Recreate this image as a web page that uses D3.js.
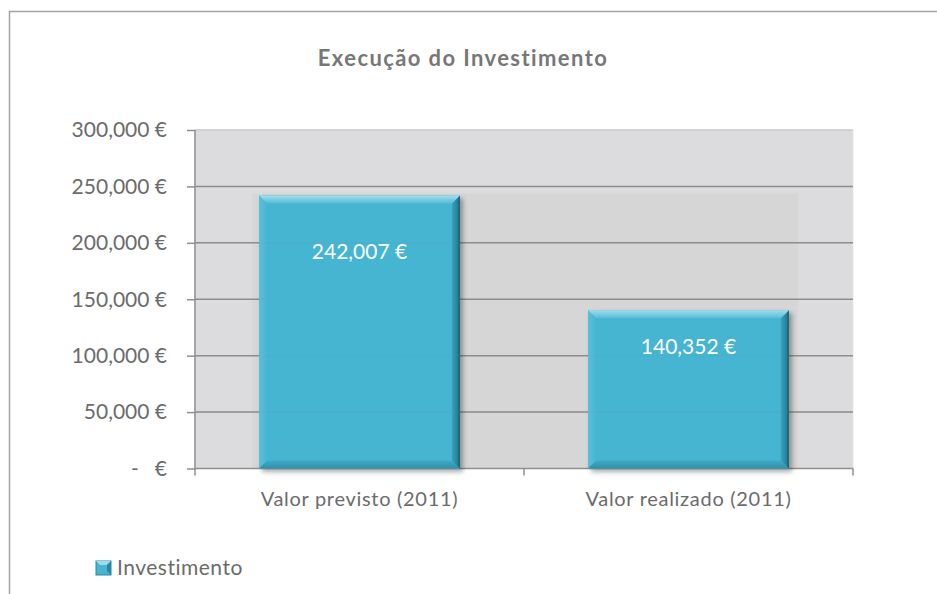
<!DOCTYPE html>
<html>
<head>
<meta charset="utf-8">
<script src="https://cdn.jsdelivr.net/npm/d3@7"></script>
<style>
  html, body { margin: 0; padding: 0; background: #fff; }
  svg { display: block; font-family: Lato, "Open Sans", sans-serif; }
</style>
</head>
<body>
<svg id="chart" width="937" height="594"></svg>
<script>
// Investment execution: planned vs. realised (2011)
const categories = ["Valor previsto (2011)", "Valor realizado (2011)"];
const investimento = [242007, 140352];
const yTicks = [0, 50000, 100000, 150000, 200000, 250000, 300000];
const seriesName = "Investimento";
const title = "Execução do Investimento";

const svg = d3.select("#chart");
const W = 937, H = 594;
const plot = { left: 195, right: 853, top: 130, bottom: 468.5 };

const fmtNum = d3.format(",.0f");
const euro = v => v === 0 ? "-   €" : fmtNum(v) + " €";

const x = d3.scaleBand().domain(categories).range([plot.left, plot.right]).paddingInner(0.39).paddingOuter(0.195);
const y = d3.scaleLinear().domain([0, 300000]).range([plot.bottom, plot.top]);

const defs = svg.append("defs");
const shadow = defs.append("filter").attr("id", "shadow").attr("x", "-10%").attr("y", "-10%").attr("width", "130%").attr("height", "130%");
shadow.append("feDropShadow").attr("dx", 3).attr("dy", 3).attr("stdDeviation", 2.5).attr("flood-color", "#000").attr("flood-opacity", 0.35);

function grad(id, x1, y1, x2, y2, stops) {
  const g = defs.append("linearGradient").attr("id", id)
    .attr("x1", x1).attr("y1", y1).attr("x2", x2).attr("y2", y2);
  stops.forEach(s => g.append("stop").attr("offset", s[0]).attr("stop-color", s[1]));
}
grad("gTop", 0, 0, 0, 1, [[0, "#a6e0ee"], [0.35, "#86d2e6"], [1, "#55bcd7"]]);
grad("gRight", 0, 0, 1, 0, [[0, "#3aa2bd"], [0.7, "#26819a"], [1, "#155667"]]);
grad("gBottom", 0, 0, 0, 1, [[0, "#40aac6"], [1, "#2f8fa9"]]);
grad("gLeft", 0, 0, 1, 0, [[0, "#58bfd9"], [1, "#48b6d2"]]);

// outer chart frame
svg.append("rect").attr("x", 9.5).attr("y", 11.5).attr("width", W + 20).attr("height", H + 20)
  .attr("fill", "#fff").attr("stroke", "#a3a3a3").attr("stroke-width", 1.5);

// title
svg.append("text").attr("x", 463).attr("y", 66).attr("text-anchor", "middle")
  .attr("font-size", 22).attr("font-weight", "bold").attr("letter-spacing", 1.4)
  .attr("fill", "#777777").text(title);

// plot area background
svg.append("rect").attr("x", plot.left).attr("y", plot.top)
  .attr("width", plot.right - plot.left).attr("height", plot.bottom - plot.top)
  .attr("fill", "#dcdcde").attr("stroke", "#e6e6e6").attr("stroke-width", 1);

// back-wall band behind the bars
const bx0 = x(categories[0]) - 7, bx1 = x(categories[1]) + x.bandwidth() + 9;
svg.append("rect").attr("x", bx0).attr("y", y(d3.max(investimento)) - 2)
  .attr("width", bx1 - bx0).attr("height", plot.bottom - y(d3.max(investimento)) + 2)
  .attr("fill", "#d6d6d7");

// gridlines
svg.append("g").selectAll("line").data(yTicks.filter(t => t > 0)).join("line")
  .attr("x1", plot.left).attr("x2", plot.right)
  .attr("y1", d => y(d)).attr("y2", d => y(d))
  .attr("stroke", d => d === 300000 ? "#c8c8c8" : "#8e8e8e").attr("stroke-width", 1.5);

// y axis
const yAxis = svg.append("g").attr("transform", `translate(${plot.left},0)`)
  .call(d3.axisLeft(y).tickValues(yTicks).tickSize(8).tickPadding(0).tickFormat(() => ""));
yAxis.select(".domain").attr("stroke", "#8e8e8e").attr("stroke-width", 1.5).attr("d", `M0,${plot.top}V${plot.bottom}`);
yAxis.selectAll(".tick line").attr("stroke", "#8e8e8e").attr("stroke-width", 1.5);

// y tick labels (accounting style: dash for zero)
const yl = svg.append("g").attr("font-size", 21).attr("fill", "#6b6b6b");
yl.selectAll("text.v").data(yTicks.filter(t => t > 0)).join("text").attr("class", "v")
  .attr("x", 167).attr("y", d => y(d)).attr("dy", "0.35em").attr("text-anchor", "end").text(euro);
yl.append("text").attr("x", 167).attr("y", y(0)).attr("dy", "0.35em").attr("text-anchor", "end").text("€");
yl.append("text").attr("x", 135).attr("y", y(0)).attr("dy", "0.35em").attr("text-anchor", "middle").text("-");

// x axis
const xAxis = svg.append("g").attr("transform", `translate(0,${plot.bottom})`);
xAxis.append("line").attr("x1", plot.left).attr("x2", plot.right).attr("stroke", "#8e8e8e").attr("stroke-width", 1.5);
const edges = [plot.left, ...categories.map(c => x(c) + x.bandwidth() / 2 + x.step() / 2)];
xAxis.selectAll("line.t").data(edges).join("line").attr("class", "t")
  .attr("x1", d => d).attr("x2", d => d).attr("y1", 0).attr("y2", 7)
  .attr("stroke", "#8e8e8e").attr("stroke-width", 1.5);
xAxis.selectAll("text").data(categories).join("text")
  .attr("x", d => x(d) + x.bandwidth() / 2).attr("y", 37)
  .attr("text-anchor", "middle").attr("font-size", 20).attr("letter-spacing", 0.7)
  .attr("fill", "#6b6b6b").text(d => d);

// bevelled bars
const b = 8;
const bars = svg.append("g").selectAll("g").data(investimento).join("g")
  .attr("filter", "url(#shadow)");
bars.each(function (v, i) {
  const g = d3.select(this);
  const x0 = x(categories[i]), x1 = x0 + x.bandwidth();
  const y0 = y(v), y1 = y(0);
  const poly = pts => pts.map(p => p.join(",")).join(" ");
  g.append("rect").attr("x", x0).attr("y", y0).attr("width", x1 - x0).attr("height", y1 - y0).attr("fill", "#45b5d2");
  g.append("polygon").attr("points", poly([[x0, y0], [x0 + b, y0 + b], [x0 + b, y1 - b], [x0, y1]])).attr("fill", "url(#gLeft)");
  g.append("polygon").attr("points", poly([[x0, y1], [x1, y1], [x1 - b, y1 - b], [x0 + b, y1 - b]])).attr("fill", "url(#gBottom)");
  g.append("polygon").attr("points", poly([[x1, y0], [x1, y1], [x1 - b, y1 - b], [x1 - b, y0 + b]])).attr("fill", "url(#gRight)");
  g.append("polygon").attr("points", poly([[x0, y0], [x1, y0], [x1 - b, y0 + b], [x0 + b, y0 + b]])).attr("fill", "url(#gTop)");
});

// faint gridlines showing through the bars
svg.append("g").selectAll("line").data(yTicks.filter(t => t > 0 && t < 300000)).join("line")
  .attr("x1", plot.left).attr("x2", plot.right)
  .attr("y1", d => y(d)).attr("y2", d => y(d))
  .attr("stroke", "#8e8e8e").attr("stroke-width", 1).attr("stroke-opacity", 0.12);

// value labels
const labelDrop = [56, 37];
svg.append("g").selectAll("text").data(investimento).join("text")
  .attr("x", (d, i) => x(categories[i]) + x.bandwidth() / 2)
  .attr("y", (d, i) => y(d) + labelDrop[i]).attr("dy", "0.35em")
  .attr("text-anchor", "middle").attr("font-size", 21).attr("fill", "#ffffff").text(euro);

// legend
const lg = svg.append("g").attr("transform", "translate(96,561)");
lg.append("rect").attr("width", 15).attr("height", 14).attr("fill", "#45b5d2").attr("stroke", "#2a87a0").attr("stroke-width", 1);
lg.append("polygon").attr("points", "0,0 15,0 11,4 4,4").attr("fill", "#9edcec");
lg.append("polygon").attr("points", "15,0 15,14 11,10 11,4").attr("fill", "#2a87a0");
lg.append("text").attr("x", 21).attr("y", 7).attr("dy", "0.35em").attr("font-size", 21).attr("letter-spacing", 0.5)
  .attr("fill", "#6b6b6b").text(seriesName);
</script>
</body>
</html>
